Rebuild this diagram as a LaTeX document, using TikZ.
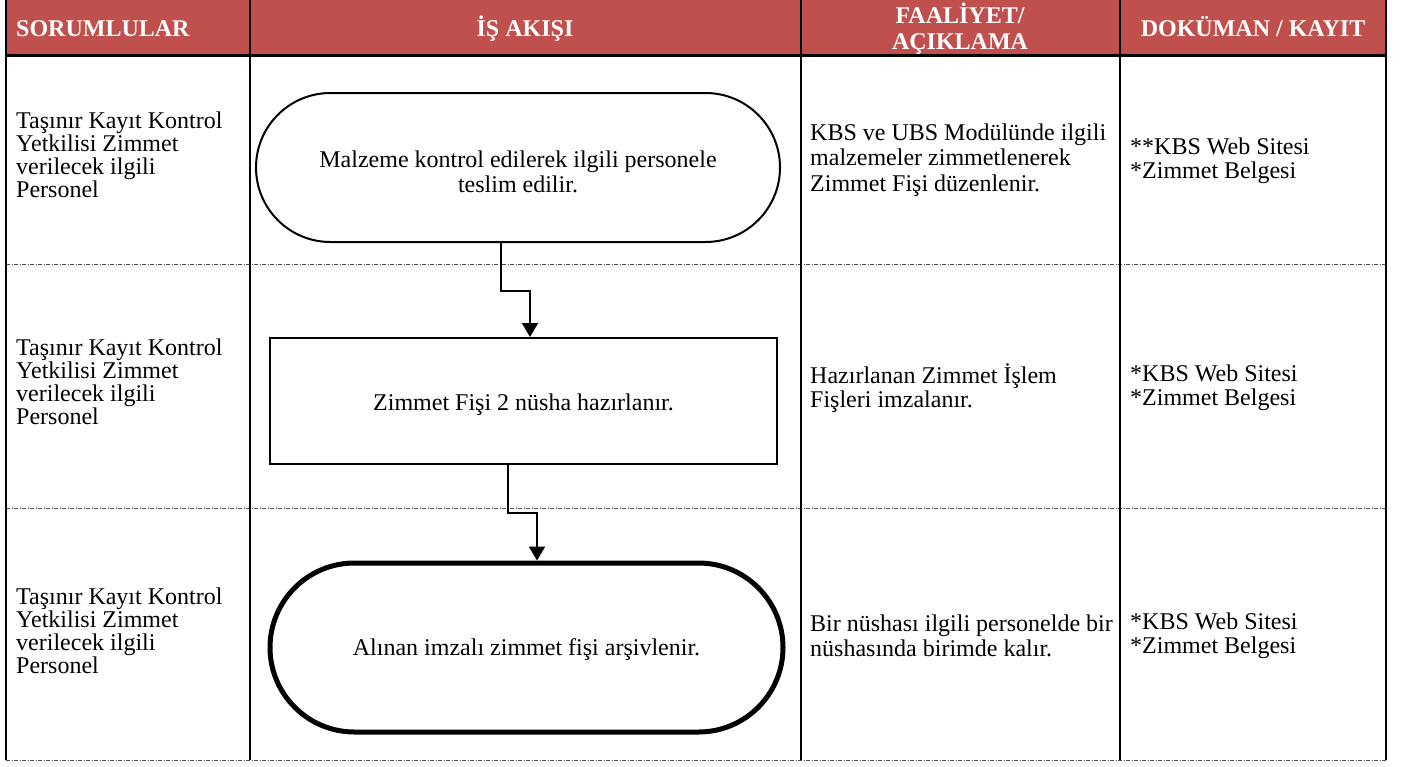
\documentclass[tikz,border=0pt]{standalone}
\usepackage{fontspec}
\setmainfont{Liberation Serif}
\usetikzlibrary{shapes.misc,arrows.meta}
\definecolor{hdrred}{RGB}{192,80,77}

\begin{document}
\begin{tikzpicture}[x=1pt,y=-1pt,
    hdr/.style={text=white,font=\bfseries\fontsize{24}{26}\selectfont,align=center,inner sep=0},
    cell/.style={anchor=west,align=left,font=\fontsize{24}{24.5}\selectfont,inner sep=0},
    resp/.style={cell,font=\fontsize{24}{23}\selectfont},
    term/.style={rounded rectangle,draw,line width=2pt,inner sep=0,align=center,font=\fontsize{24}{25}\selectfont},
    procbox/.style={rectangle,draw,line width=2pt,inner sep=0,align=center,font=\fontsize{24}{25}\selectfont},
    flow/.style={line width=2pt,-{Triangle[length=14pt,width=16pt]}},
    rowsep/.style={gray!60!black,line width=1pt,dash pattern=on 4pt off 1.5pt on 1pt off 1.5pt}]
  \useasboundingbox (0,0) rectangle (1404,766);

  % header band
  \fill[hdrred] (6,0) rectangle (1386,55);
  \node[hdr,anchor=base west] (h1) at (16,36) {SORUMLULAR};
  \node[hdr,anchor=base] (h2) at (525,36) {İŞ AKIŞI};
  \node[hdr] (h3) at (960,29) {FAALİYET/\\AÇIKLAMA};
  \node[hdr,anchor=base] (h4) at (1253,36) {DOKÜMAN / KAYIT};

  % table lines
  \foreach \y in {264,508,760}
    \draw[rowsep] (6,\y) -- (1386,\y);
  \foreach \x in {6,250,801,1120,1386}
    \draw[line width=2.2pt] (\x,0) -- (\x,760);
  \draw[line width=3pt] (6,55) -- (1386,55);

  % SORUMLULAR
  \node[resp] (s1) at (16,155) {Taşınır Kayıt Kontrol\\Yetkilisi Zimmet\\verilecek ilgili\\Personel};
  \node[resp] (s2) at (16,382) {Taşınır Kayıt Kontrol\\Yetkilisi Zimmet\\verilecek ilgili\\Personel};
  \node[resp] (s3) at (16,631) {Taşınır Kayıt Kontrol\\Yetkilisi Zimmet\\verilecek ilgili\\Personel};

  % IS AKISI
  \node[term,minimum width=524,minimum height=149] (t1) at (518,167.5) {\rule{0pt}{26pt}Malzeme kontrol edilerek ilgili personele\\teslim edilir.};
  \node[procbox,minimum width=507,minimum height=126] (p2) at (523.5,401) {\rule{0pt}{24pt}Zimmet Fişi 2 nüsha hazırlanır.};
  \node[term,line width=5pt,minimum width=513,minimum height=169] (t3) at (526.5,647.5) {\rule{0pt}{22pt}Alınan imzalı zimmet fişi arşivlenir.};

  \draw[flow] ([xshift=-17pt]t1.south) -- ++(0,48) -| ([xshift=6.5pt]p2.north);
  \draw[flow] ([xshift=-15.5pt]p2.south) -- ++(0,48) -| ([xshift=10.5pt]t3.north);

  % FAALIYET / ACIKLAMA
  \node[cell,font=\fontsize{24}{25.5}\selectfont] (a1) at (810,160) {KBS ve UBS Modülünde ilgili\\malzemeler zimmetlenerek\\Zimmet Fişi düzenlenir.};
  \node[cell] (a2) at (810,388) {Hazırlanan Zimmet İşlem\\Fişleri imzalanır.};
  \node[cell] (a3) at (810,636) {Bir nüshası ilgili personelde bir\\nüshasında birimde kalır.};

  % DOKUMAN / KAYIT
  \node[cell] (d1) at (1130,161) {**KBS Web Sitesi\\*Zimmet Belgesi};
  \node[cell] (d2) at (1130,388) {*KBS Web Sitesi\\*Zimmet Belgesi};
  \node[cell] (d3) at (1130,636) {*KBS Web Sitesi\\*Zimmet Belgesi};
\end{tikzpicture}
\end{document}
